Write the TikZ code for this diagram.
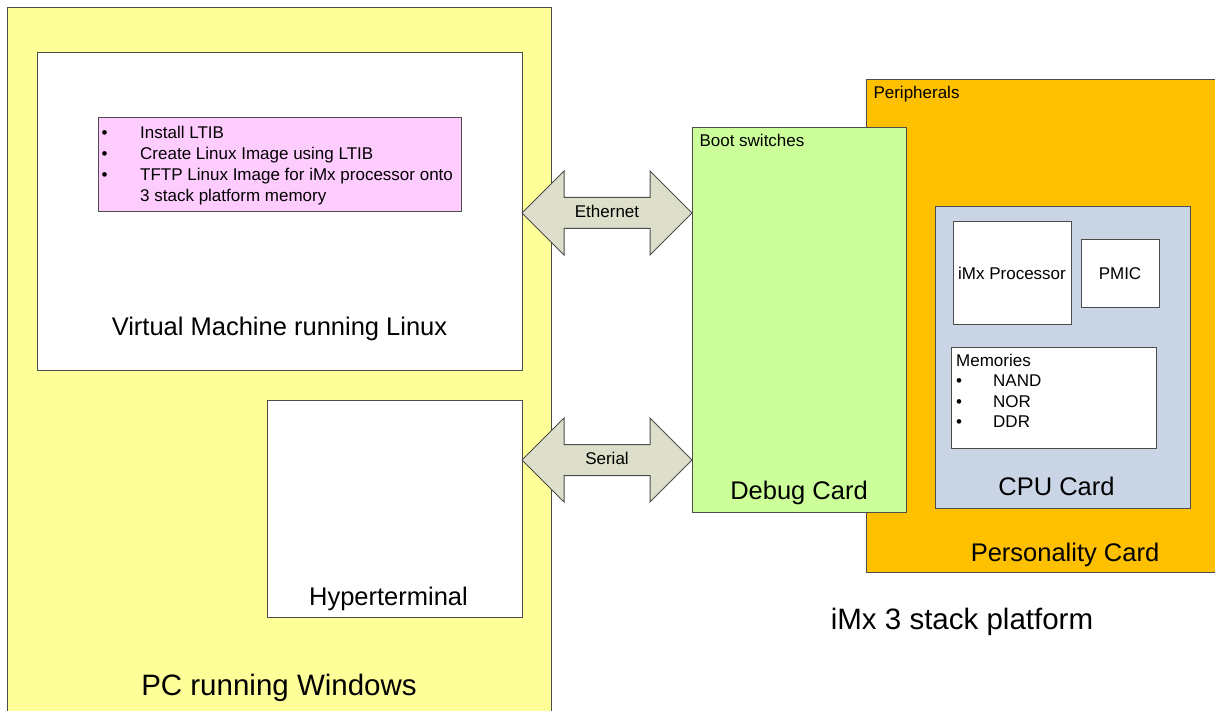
\documentclass[tikz,border=0pt]{standalone}
\usepackage{fontspec}
\setmainfont{Liberation Sans}
\definecolor{pcyellow}{RGB}{255,255,153}
\definecolor{ltibpink}{RGB}{255,204,255}
\definecolor{debuggreen}{RGB}{204,255,153}
\definecolor{persorange}{RGB}{255,192,0}
\definecolor{cpublue}{RGB}{201,213,229}
\definecolor{busgrey}{RGB}{221,223,203}
\usetikzlibrary{shapes.arrows, positioning, calc}

\tikzset{
  card/.style={draw=black!70, line width=1pt, anchor=north west, inner sep=0pt, outer sep=0pt},
  smalltext/.style={font=\fontsize{17}{21}\selectfont},
  midtext/.style={font=\fontsize{25.5}{30}\selectfont},
  bigtext/.style={font=\fontsize{29.5}{34}\selectfont},
  bus/.style={double arrow, draw=black!70, line width=1pt, fill=busgrey,
    double arrow head extend=26.5pt, minimum height=170pt, inner xsep=0pt, inner ysep=7.5pt,
    text height=12pt, text depth=3pt, font=\fontsize{17}{21}\selectfont}
}

\begin{document}
\begin{tikzpicture}[x=1pt, y=-1pt]
  \useasboundingbox (0,0) rectangle (1215,711);
  \clip (0,0) rectangle (1215,711);

  % PC side
  \node[card, fill=pcyellow, minimum width=544pt, minimum height=730pt,
    label={[bigtext, anchor=base, yshift=43pt]south:PC running Windows}] (pc) at (7,8) {};
  \node[card, fill=white, minimum width=485pt, minimum height=317pt,
    label={[midtext, anchor=base, yshift=35pt]south:Virtual Machine running Linux}] (vm) at (37,53) {};
  \node[card, fill=ltibpink, minimum width=363pt, minimum height=94pt,
    label={[smalltext, anchor=north west, inner sep=0pt, xshift=3.5pt, yshift=-5.3pt]north west:{%
      \begin{tabular}{@{}p{38.5pt}@{}l@{}}
        \textbullet & Install LTIB\\
        \textbullet & Create Linux Image using LTIB\\
        \textbullet & TFTP Linux Image for iMx processor onto\\
                    & 3 stack platform memory
      \end{tabular}}}] (ltib) at (98,118) {};
  \node[card, fill=white, minimum width=255pt, minimum height=217pt,
    label={[midtext, anchor=base, xshift=-6pt, yshift=12pt]south:Hyperterminal}] (hyper) at (267,400) {};

  % 3 stack platform
  \node[card, fill=persorange, minimum width=398pt, minimum height=492pt,
    label={[smalltext, anchor=base west, xshift=4pt, yshift=-19pt]north west:Peripherals},
    label={[midtext, anchor=base, yshift=11pt]south:Personality Card}] (pers) at (866,80) {};
  \node[card, fill=debuggreen, minimum width=214pt, minimum height=384pt,
    label={[smalltext, anchor=base west, xshift=4pt, yshift=-19pt]north west:Boot switches},
    label={[midtext, anchor=base, yshift=13pt]south:Debug Card}] (debug) at (692,128) {};
  \node[card, fill=cpublue, minimum width=255pt, minimum height=301pt,
    label={[midtext, anchor=base, xshift=-6pt, yshift=13pt]south:CPU Card}] (cpu) at (935,207) {};
  \node[card, fill=white, minimum width=118pt, minimum height=102pt, smalltext] (imx) at (953,222) {iMx Processor};
  \node[card, fill=white, minimum width=78pt, minimum height=67pt, smalltext] (pmic) at (1081,240) {PMIC};
  \node[card, fill=white, minimum width=205pt, minimum height=101pt,
    label={[font=\fontsize{17}{20.5}\selectfont, anchor=north west, inner sep=0pt, xshift=5pt, yshift=-4.6pt]north west:{%
      \begin{tabular}{@{}p{37pt}@{}l@{}}
        \multicolumn{2}{@{}l}{Memories}\\
        \textbullet & NAND\\
        \textbullet & NOR\\
        \textbullet & DDR
      \end{tabular}}}] (mem) at (951,347) {};
  \node[bigtext] (platform) at (962,622) {iMx 3 stack platform};

  % links between PC and board
  \node[bus] (ethernet) at (607,213) {Ethernet};
  \node[bus] (serial) at (607,460) {Serial};
\end{tikzpicture}
\end{document}
